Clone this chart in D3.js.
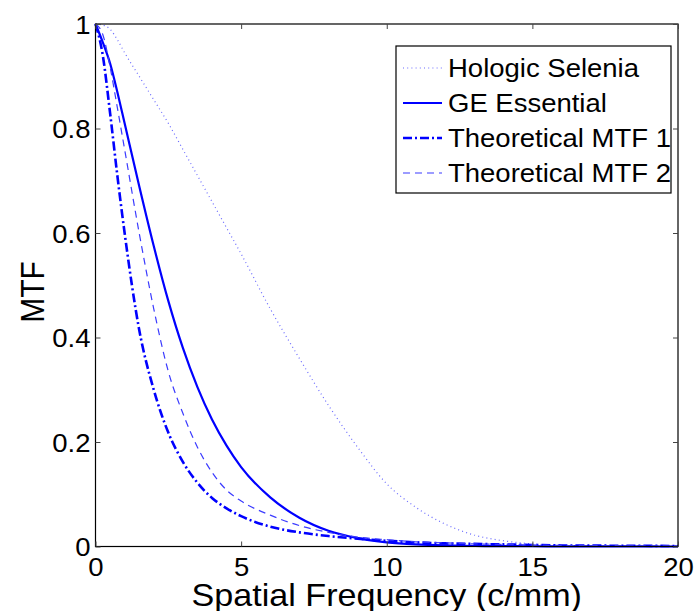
<!DOCTYPE html>
<html><head><meta charset="utf-8">
<script src="https://cdn.jsdelivr.net/npm/d3@7"></script>
<style>body{margin:0;background:#fff}svg text{font-family:"Liberation Sans",Arial,sans-serif;fill:#000}</style>
</head><body><svg id="c" width="695" height="611"></svg>
<script>
// Data
const freq = [0,0.25,0.5,0.75,1,1.5,2,2.5,3,3.5,4,4.5,5,6,7,8,9,10,11,12,13,14,15,16,18,20];
const hologic = [1,0.998,0.99,0.97,0.945,0.9,0.855,0.81,0.76,0.71,0.66,0.61,0.56,0.455,0.36,0.27,0.19,0.12,0.075,0.043,0.022,0.011,0.005,0.002,0.001,0];
const geEssential = [1,0.965,0.925,0.87,0.81,0.69,0.575,0.47,0.38,0.305,0.243,0.193,0.152,0.094,0.055,0.03,0.016,0.008,0.004,0.002,0.001,0.0007,0.0005,0.0003,0.0001,0];
const theo1 = [1,0.94,0.83,0.71,0.60,0.415,0.30,0.218,0.162,0.122,0.093,0.073,0.058,0.038,0.027,0.02,0.015,0.011,0.008,0.006,0.005,0.004,0.003,0.002,0.0015,0.001];
const theo2 = [1,0.98,0.918,0.84,0.76,0.60,0.455,0.335,0.255,0.19,0.142,0.108,0.087,0.06,0.04,0.027,0.018,0.013,0.009,0.007,0.005,0.004,0.003,0.002,0.0015,0.001];
const seriesNames = ["Hologic Selenia","GE Essential","Theoretical MTF 1","Theoretical MTF 2"];
const xTicks = [0,5,10,15,20];
const yTicks = [0,0.2,0.4,0.6,0.8,1];

const styles = [
  {color:"#6a6aff", width:1.2, dash:"1,3.2"},
  {color:"#0000ff", width:2.2, dash:null},
  {color:"#0000ff", width:2.6, dash:"9,3,2,3"},
  {color:"#3b3bff", width:1.2, dash:"7,5"}
];
const series = [hologic, geEssential, theo1, theo2];
const SX = 1.1; // horizontal stretch of the reference's lettering

const svg = d3.select("#c");
const L=95.5, R=678, T=24, B=546.5;
const x = d3.scaleLinear().domain([0,20]).range([L,R]);
const y = d3.scaleLinear().domain([0,1]).range([B,T]);

function stretch(sel){
  sel.each(function(){
    const t=d3.select(this);
    const tx=+t.attr("x")||0, ty=+t.attr("y")||0;
    t.attr("x",0).attr("y",0).attr("transform",`translate(${tx},${ty}) scale(${SX},1)`);
  });
}

// curves
const line = d3.line().x(d=>x(d[0])).y(d=>y(d[1])).curve(d3.curveMonotoneX);
const g = svg.append("g");
series.forEach((s,i)=>{
  g.append("path").datum(freq.map((f,j)=>[f,s[j]]))
   .attr("d",line).attr("fill","none")
   .attr("stroke",styles[i].color).attr("stroke-width",styles[i].width)
   .attr("stroke-dasharray",styles[i].dash);
});

// box
svg.append("rect").attr("x",L).attr("y",T).attr("width",R-L).attr("height",B-T)
  .attr("fill","none").attr("stroke","#000").attr("stroke-width",1.2);

// axes
const tl = 5;
const xb = svg.append("g").attr("transform",`translate(0,${B})`)
  .call(d3.axisBottom(x).tickValues(xTicks).tickSize(-tl).tickPadding(0).tickFormat(d3.format("d")));
const xt = svg.append("g").attr("transform",`translate(0,${T})`)
  .call(d3.axisTop(x).tickValues(xTicks).tickSize(-tl).tickFormat(""));
const yl = svg.append("g").attr("transform",`translate(${L},0)`)
  .call(d3.axisLeft(y).tickValues(yTicks).tickSize(-tl).tickPadding(5).tickFormat(d=>d===0||d===1?d3.format("d")(d):d3.format(".1f")(d)));
const yr = svg.append("g").attr("transform",`translate(${R},0)`)
  .call(d3.axisRight(y).tickValues(yTicks).tickSize(-tl).tickFormat(""));
[xb,xt,yl,yr].forEach(a=>{
  a.select(".domain").remove();
  a.selectAll(".tick line").attr("stroke","#444").attr("stroke-width",1);
  a.selectAll("text").style("font-size","25px").attr("fill","#000");
});
xb.selectAll("text").attr("y",29.5).attr("dy",null);
yl.selectAll("text").attr("dy","0.36em");
stretch(xb.selectAll("text"));
stretch(yl.selectAll("text"));

// axis titles
const xtitle = svg.append("text").attr("x",(L+R)/2).attr("y",606).attr("text-anchor","middle")
  .style("font-size","31px").text("Spatial Frequency (c/mm)");
stretch(xtitle);
svg.append("text").attr("transform",`translate(44,292) scale(${SX},1) rotate(-90)`).attr("text-anchor","middle")
  .style("font-size","30px").text("MTF");

// legend
const lg = svg.append("g");
lg.append("rect").attr("x",396).attr("y",46).attr("width",275).attr("height",147)
  .attr("fill","#fff").attr("stroke","#000").attr("stroke-width",1.2);
seriesNames.forEach((n,i)=>{
  const yy = 68 + i*35;
  lg.append("line").attr("x1",403).attr("x2",442).attr("y1",yy).attr("y2",yy)
    .attr("stroke",styles[i].color).attr("stroke-width",styles[i].width)
    .attr("stroke-dasharray",styles[i].dash);
  const t = lg.append("text").attr("x",448).attr("y",yy+9).style("font-size","25px").text(n);
  stretch(t);
});
</script></body></html>
